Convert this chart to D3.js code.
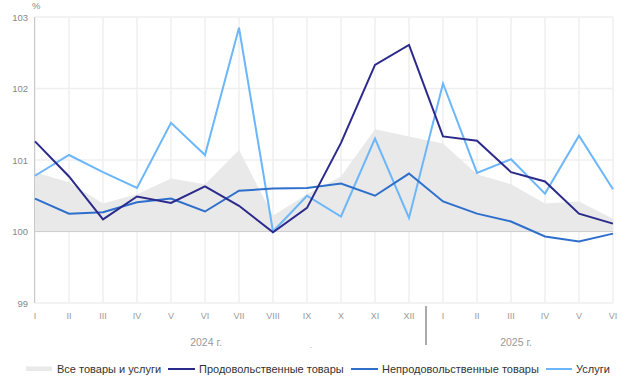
<!DOCTYPE html>
<html><head><meta charset="utf-8">
<script src="https://cdn.jsdelivr.net/npm/d3@7"></script>
<style>body{margin:0;background:#fff;}svg{display:block;font-family:"Liberation Sans",Arial,sans-serif;}</style>
</head><body><svg id="c" width="635" height="391"></svg>
<script>
const months = ["I","II","III","IV","V","VI","VII","VIII","IX","X","XI","XII","I","II","III","IV","V","VI"];
const years = ["2024 г.","2025 г."];
const allGoods = [100.83,100.69,100.39,100.52,100.74,100.66,101.14,100.22,100.52,100.77,101.43,101.33,101.23,100.80,100.66,100.39,100.42,100.18];
const food = [101.26,100.77,100.17,100.49,100.40,100.63,100.36,99.99,100.33,101.24,102.33,102.61,101.33,101.27,100.83,100.70,100.25,100.11];
const nonFood = [100.46,100.25,100.27,100.41,100.46,100.28,100.57,100.60,100.61,100.67,100.50,100.81,100.42,100.25,100.14,99.93,99.86,99.97];
const services = [100.78,101.07,100.83,100.61,101.52,101.07,102.85,100.00,100.50,100.21,101.30,100.19,102.07,100.82,101.01,100.53,101.34,100.59];
const yTicks = [99,100,101,102,103];
const seriesNames = ["Все товары и услуги","Продовольственные товары","Непродовольственные товары","Услуги"];
const colors = {all:"#e9e9e9", food:"#2b2a8c", nonFood:"#2e6fcb", services:"#6cb6fa"};

const svg = d3.select("#c");
const pL = 35, pR = 613, pT = 17, pB = 303;
const x = d3.scaleLinear().domain([0, months.length-1]).range([pL, pR]);
const y = d3.scaleLinear().domain([99,103]).range([pB, pT]);
const idx = d3.range(months.length);

// grid
svg.append("g").selectAll("line").data(idx).join("line")
  .attr("x1",d=>x(d)).attr("x2",d=>x(d)).attr("y1",pT).attr("y2",pB)
  .attr("stroke","#efefef").attr("stroke-width",1.5);
svg.append("g").selectAll("line").data(yTicks).join("line")
  .attr("x1",pL).attr("x2",pR).attr("y1",d=>y(d)).attr("y2",d=>y(d))
  .attr("stroke","#efefef").attr("stroke-width",1.5);

// area
svg.append("path").datum(allGoods)
  .attr("d", d3.area().x((d,i)=>x(i)).y0(y(100)).y1(d=>y(d)))
  .attr("fill",colors.all);
svg.append("line").attr("x1",pL).attr("x2",pR).attr("y1",y(100)).attr("y2",y(100))
  .attr("stroke","#cfcfcf").attr("stroke-width",1.2);

// left axis
svg.append("line").attr("x1",pL-0.5).attr("x2",pL-0.5).attr("y1",pT).attr("y2",pB)
  .attr("stroke","#c8c8c8").attr("stroke-width",1);

// y labels
svg.append("g").selectAll("text").data(yTicks).join("text")
  .attr("x",28).attr("y",d=>y(d)+3.5).attr("text-anchor","end")
  .attr("font-size",9.5).attr("fill","#888").text(d=>d);
svg.append("text").attr("x",32).attr("y",9).attr("font-size",9.5).attr("fill","#888").text("%");

// lines
const line = d3.line().x((d,i)=>x(i)).y(d=>y(d));
[[services,colors.services],[nonFood,colors.nonFood],[food,colors.food]].forEach(([data,c])=>{
  svg.append("path").datum(data).attr("d",line).attr("fill","none")
    .attr("stroke",c).attr("stroke-width",2).attr("stroke-linejoin","miter");
});

// x labels
svg.append("g").selectAll("text").data(idx).join("text")
  .attr("x",d=>x(d)).attr("y",319).attr("text-anchor","middle")
  .attr("font-size",9).attr("fill","#999").text(d=>months[d]);
svg.append("line").attr("x1",(x(11)+x(12))/2).attr("x2",(x(11)+x(12))/2)
  .attr("y1",306).attr("y2",345).attr("stroke","#aaa").attr("stroke-width",2);
svg.append("text").attr("x",206).attr("y",346).attr("text-anchor","middle")
  .attr("font-size",10.5).attr("fill","#999").text(years[0]);
svg.append("text").attr("x",516).attr("y",346).attr("text-anchor","middle")
  .attr("font-size",10.5).attr("fill","#999").text(years[1]);
svg.append("text").attr("x",311).attr("y",348).attr("text-anchor","middle")
  .attr("font-size",9).attr("fill","#aaa").text(".");

// legend
const lg = svg.append("g");
const legendItems = [
  {name:seriesNames[0], c:colors.all, x:26, w:26, area:true, tx:57},
  {name:seriesNames[1], c:colors.food, x:168, w:27, tx:199},
  {name:seriesNames[2], c:colors.nonFood, x:351, w:27, tx:382},
  {name:seriesNames[3], c:colors.services, x:546, w:26, tx:576}
];
legendItems.forEach(it=>{
  if(it.area){
    lg.append("rect").attr("x",it.x).attr("y",366.5).attr("width",it.w).attr("height",4.5).attr("fill",it.c);
  } else {
    lg.append("line").attr("x1",it.x).attr("x2",it.x+it.w).attr("y1",369).attr("y2",369)
      .attr("stroke",it.c).attr("stroke-width",2);
  }
  lg.append("text").attr("x",it.tx).attr("y",373).attr("font-size",11).attr("fill","#333")
    .text(it.name);
});
</script></body></html>
